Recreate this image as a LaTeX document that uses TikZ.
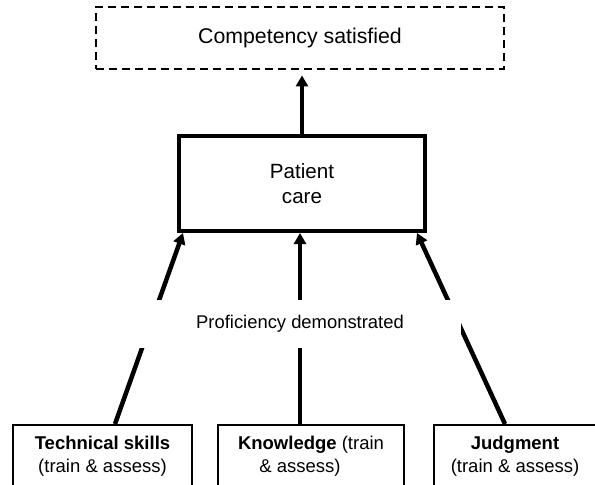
\documentclass[tikz,border=0pt]{standalone}
\usepackage{fontspec}
\setmainfont{Liberation Sans}
\usetikzlibrary{arrows.meta}
\begin{document}
\begin{tikzpicture}[x=1pt,y=-1pt,
  goal/.style={draw, dash pattern=on 8pt off 5pt, line width=2.2pt,
    minimum width=408pt, minimum height=62pt, inner sep=0pt,
    font=\fontsize{21.3}{25}\selectfont},
  carebox/.style={draw, line width=4pt, minimum width=246pt, minimum height=95pt,
    align=center, inner sep=0pt, font=\fontsize{20.6}{24.5}\selectfont},
  basebox/.style={draw, line width=1.8pt, anchor=north, minimum height=63pt,
    align=center, inner sep=0pt, font=\fontsize{18.5}{23}\selectfont},
  link/.style={line width=4.5pt, -{Triangle[width=12pt,length=11pt]}},
  band/.style={fill=white, minimum width=322pt, minimum height=48pt, inner sep=0pt,
    font=\fontsize{18.4}{22}\selectfont}
]
\useasboundingbox (0,0) rectangle (595,485);
\clip (0,0) rectangle (595,485);

% outcome and the care box it rests on
\node[goal] (goal) at (300,38.3) {Competency satisfied};
\node[carebox] (care) at (302,183.5) {Patient\\care};

% the three trained and assessed components
\node[basebox, minimum width=179pt] (tech) at (102.5,424)
  {\textbf{Technical skills}\\(train \& assess)};
\node[basebox, minimum width=186pt] (know) at (311,424)
  {\textbf{Knowledge} (train\\\& assess)\hspace*{22pt}};
\node[basebox, minimum width=162pt] (judg) at (515,424)
  {\textbf{Judgment}\\(train \& assess)};

% connectors
\draw[link] ([xshift=12.5pt]tech.north) -- ([xshift=-119pt]care.south);
\draw[link] ([xshift=-11pt]know.north) -- ([xshift=-2pt]care.south);
\draw[link] ([xshift=-10pt]judg.north) -- ([xshift=115pt]care.south);
\draw[link, shorten >=5pt] (care.north) -- (care.north |- goal.south);

% label over the connectors
\node[band] (prof) at (300,324) {Proficiency demonstrated};
\end{tikzpicture}
\end{document}
